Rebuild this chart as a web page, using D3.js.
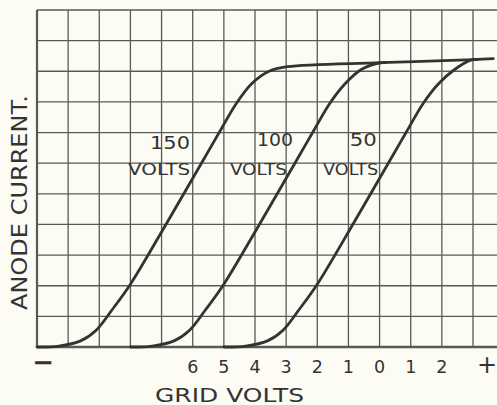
<!DOCTYPE html>
<html>
<head>
<meta charset="utf-8">
<script src="https://cdn.jsdelivr.net/npm/d3@7/dist/d3.min.js"></script>
<style>
  html, body { margin: 0; padding: 0; background: #fcfcf4; }
  svg { display: block; }
  text { font-family: "DejaVu Sans", sans-serif; fill: #333; }
</style>
</head>
<body>
<svg id="chart" width="497" height="405"></svg>
<script>
// ---- data (grid volts, anode current in grid squares) ----
const curve150 = [[-11,0],[-10.3,0.03],[-9.6,0.2],[-9.1,0.55],[-8.6,1.2],[-8.0,2.05],[-6.86,4],[-5.72,6],[-5.15,7],[-4.6,7.95],[-4.1,8.6],[-3.55,9.0],[-2.96,9.15],[0.03,9.28],[3.02,9.38],[3.65,9.41]];
const curve100 = [[-8,0],[-7.3,0.03],[-6.6,0.2],[-6.1,0.55],[-5.6,1.2],[-5.0,2.05],[-3.86,4],[-2.72,6],[-2.15,7],[-1.6,7.95],[-1.1,8.6],[-0.6,9.05],[-0.1,9.25],[0.2,9.29]];
const curve50  = [[-5,0],[-4.3,0.03],[-3.6,0.2],[-3.1,0.55],[-2.6,1.2],[-2.0,2.05],[-0.86,4],[0.28,6],[0.85,7],[1.4,7.95],[1.9,8.6],[2.4,9.05],[2.95,9.37],[3.15,9.39]];
const seriesNames = ["150", "100", "50"];
const seriesUnit = "VOLTS";
const xGridValues = d3.range(-11, 4);      // vertical grid lines, one per volt
const yGridValues = d3.range(0, 12);       // horizontal grid lines
const tickValues = [-10.8, -6, -5, -4, -3, -2, -1, 0, 1, 2, 3.45];
const tickLabels = ["−", "6", "5", "4", "3", "2", "1", "0", "1", "2", "+"];
const xTitle = "GRID VOLTS";
const yTitle = "ANODE CURRENT.";

// ---- scales ----
const x = d3.scaleLinear().domain([-11, 3]).range([37, 473]);
const y = d3.scaleLinear().domain([0, 11]).range([347, 10]);
const xEdge = x.invert(497);

const svg = d3.select("#chart");
svg.append("rect").attr("width", 497).attr("height", 405).attr("fill", "#fcfcf4");

const grid = svg.append("g").attr("stroke", "#5a5a55").attr("stroke-width", 1.3);
grid.selectAll("line.v").data(xGridValues).join("line")
  .attr("class", "v")
  .attr("x1", d => x(d)).attr("x2", d => x(d))
  .attr("y1", y(0)).attr("y2", y(11))
  .attr("stroke-width", (d, i) => i === 0 ? 2.2 : 1.3);
grid.selectAll("line.h").data(yGridValues).join("line")
  .attr("class", "h")
  .attr("x1", x(-11)).attr("x2", x(xEdge))
  .attr("y1", d => y(d)).attr("y2", d => y(d))
  .attr("stroke-width", (d, i) => i === 0 ? 2.6 : (d === 11 ? 1.6 : 1.3));

// ---- curves ----
const line = d3.line().x(d => x(d[0])).y(d => y(d[1])).curve(d3.curveCatmullRom.alpha(0.5));
svg.append("g").selectAll("path").data([curve150, curve100, curve50]).join("path")
  .attr("d", line)
  .attr("fill", "none")
  .attr("stroke", "#333")
  .attr("stroke-width", 2.8)
  .attr("stroke-linecap", "round");

// ---- curve labels ----
const labelPos = [
  { num: [-6.73, 6.69], numLen: 40, unit: [-7.08, 5.78], unitLen: 62 },
  { num: [-3.36, 6.76], numLen: 36, unit: [-3.89, 5.78], unitLen: 57 },
  { num: [-0.52, 6.76], numLen: 27, unit: [-0.93, 5.78], unitLen: 55 }
];
const lab = svg.append("g");
seriesNames.forEach((name, i) => {
  const p = labelPos[i];
  lab.append("text").text(name)
    .attr("x", x(p.num[0])).attr("y", y(p.num[1]) + 6.5)
    .attr("text-anchor", "middle").attr("font-size", 17.5)
    .attr("textLength", p.numLen).attr("lengthAdjust", "spacingAndGlyphs");
  lab.append("text").text(seriesUnit)
    .attr("x", x(p.unit[0])).attr("y", y(p.unit[1]) + 5.5)
    .attr("text-anchor", "middle").attr("font-size", 15)
    .attr("textLength", p.unitLen).attr("lengthAdjust", "spacingAndGlyphs");
});

// ---- tick labels ----
svg.append("g").selectAll("text").data(tickValues).join("text")
  .attr("x", d => x(d))
  .attr("y", (d, i) => i === 0 ? 371 : 372.5)
  .attr("text-anchor", "middle")
  .attr("font-size", (d, i) => i === 0 ? 26 : (i === tickValues.length - 1 ? 24 : 17.5))
  .attr("font-weight", (d, i) => i === 0 ? "bold" : "normal")
  .text((d, i) => tickLabels[i]);

// ---- axis titles ----
svg.append("text").text(xTitle)
  .attr("x", 155).attr("y", 401.5)
  .attr("font-size", 19.5)
  .attr("textLength", 149).attr("lengthAdjust", "spacingAndGlyphs");

svg.append("text").text(yTitle)
  .attr("transform", "translate(27,202.5) rotate(-90)")
  .attr("text-anchor", "middle")
  .attr("font-size", 21)
  .attr("textLength", 215).attr("lengthAdjust", "spacingAndGlyphs");
</script>
</body>
</html>
